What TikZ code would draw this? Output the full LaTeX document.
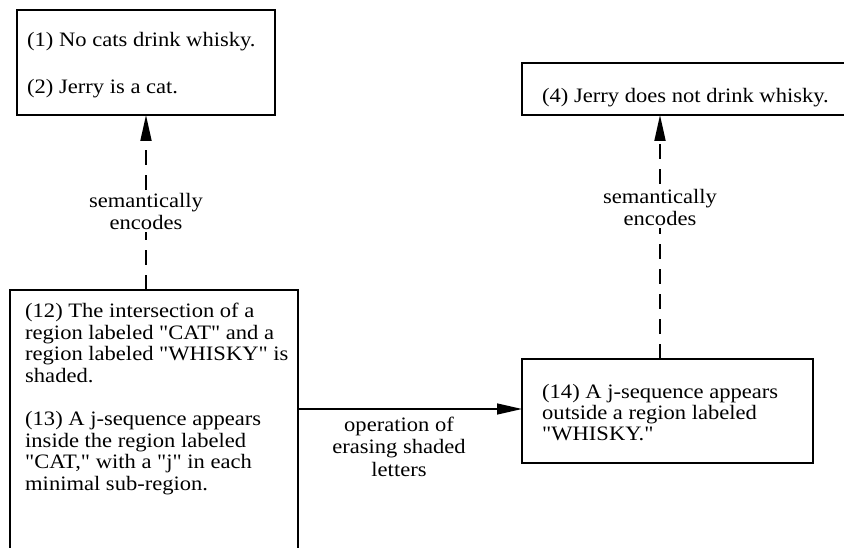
\documentclass[tikz,border=0pt]{standalone}
\usepackage{fontspec}
\newfontfamily\bodyfont{Liberation Serif}[FakeStretch=1.1]
\usetikzlibrary{arrows.meta}

\newcommand{\lines}[1]{\begin{tabular}[t]{@{}l@{}}#1\end{tabular}}

\tikzset{
  panel/.style={draw, line width=1.3pt, inner sep=0pt, outer sep=0pt},
  txt/.style={anchor=base west, inner sep=0pt,
              font=\bodyfont\fontsize{20.5}{21.5}\selectfont},
  lbl/.style={fill=white, inner sep=2pt, align=center,
              font=\bodyfont\fontsize{20.5}{22.5}\selectfont},
  encodes/.style={line width=1.8pt, dash pattern=on 15pt off 10pt,
                  -{Triangle[length=26pt,width=11pt]}},
  operation/.style={line width=1.3pt, -{Triangle[length=25pt,width=11pt]}}
}

\begin{document}
\begin{tikzpicture}[x=1pt, y=-1pt]
  \useasboundingbox (0,0) rectangle (844,548);

  % boxes
  \node[panel, minimum width=258pt, minimum height=105pt] (b1) at (146,62.5) {};
  \node[panel, minimum width=288pt, minimum height=280pt] (b2) at (154,430) {};
  \node[panel, minimum width=291pt, minimum height=104pt] (b3) at (667.5,411) {};
  \node[panel, minimum width=323pt, minimum height=52pt]  (b4) at (683.5,89) {};

  % box texts (anchored at the baseline of their first line)
  \node[txt] (t1) at (27,47) {(1) No cats drink whisky.};
  \node[txt] (t2) at (27,94) {(2) Jerry is a cat.};
  \node[txt] (t4) at (542,103) {(4) Jerry does not drink whisky.};
  \node[txt] (t12) at (25,318) {\lines{(12) The intersection of a\\region labeled "CAT" and a\\region labeled "WHISKY" is\\shaded.}};
  \node[txt] (t13) at (25,425.5) {\lines{(13) A j-sequence appears\\inside the region labeled\\"CAT," with a "j" in each\\minimal sub-region.}};
  \node[txt] (t14) at (542,398) {\lines{(14) A j-sequence appears\\outside a region labeled\\"WHISKY."}};

  % connector positions
  \coordinate (e2) at (660,0);
  \coordinate (h) at (0,409);

  % semantic encoding arrows
  \draw[encodes] (b2.north -| b1.south) -- (b1.south)
    node[lbl, pos=0.45] (l1) {semantically\\encodes};
  \draw[encodes] (b3.north -| e2) -- (b4.south -| e2)
    node[lbl, pos=0.62] (l2) {semantically\\encodes};

  % erasing operation
  \draw[operation] (h -| b2.east) -- (h -| b3.west)
    node[lbl, fill=none, pos=0.5, below=5pt, xshift=-11pt] (l3) {operation of\\erasing shaded\\letters};
\end{tikzpicture}
\end{document}
